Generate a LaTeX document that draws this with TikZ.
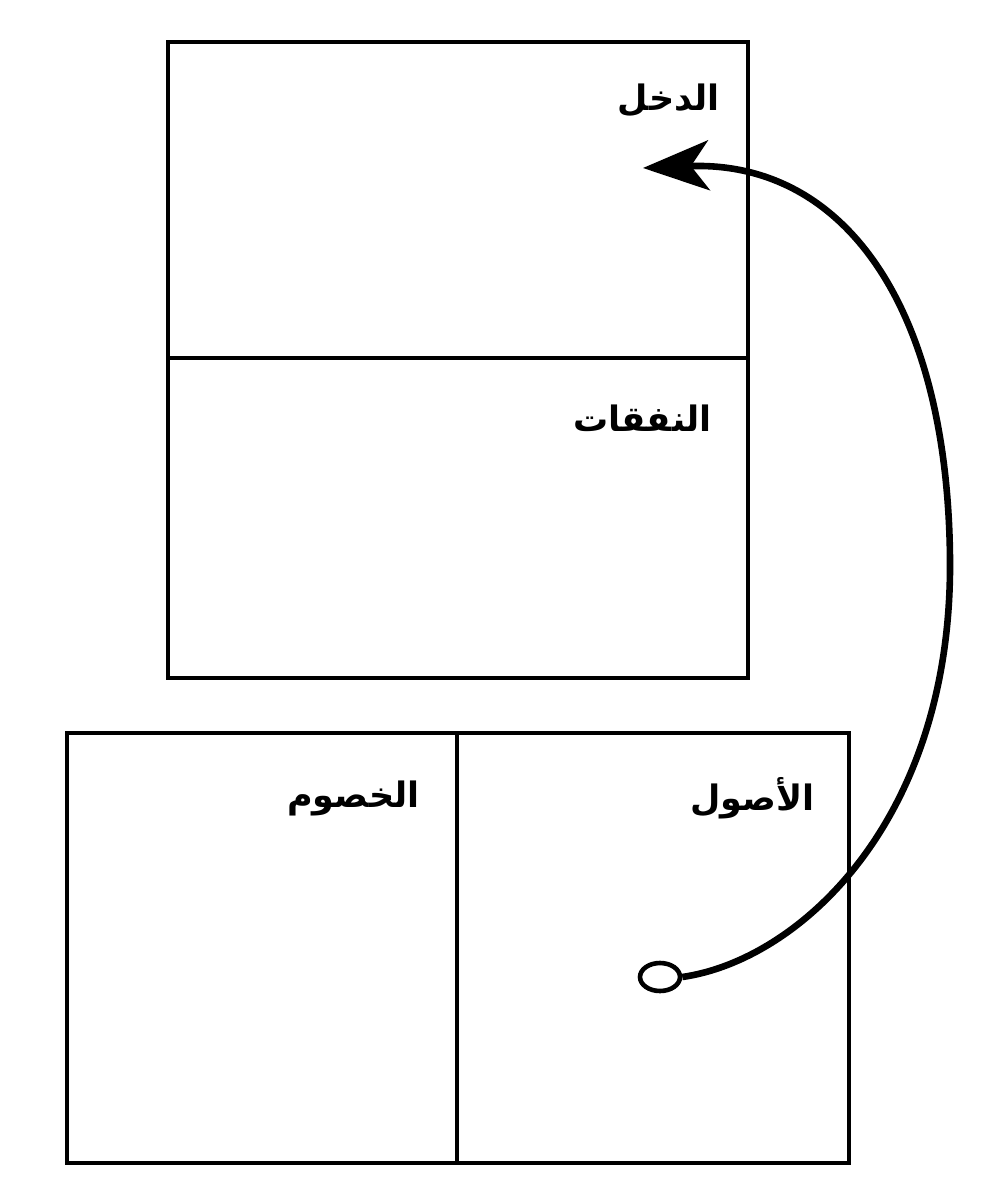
\documentclass[tikz,border=0pt]{standalone}
\usepackage{fontspec}
\newfontfamily\arabicfont[Script=Arabic]{DejaVu Sans}
\TeXXeTstate=1
\usetikzlibrary{arrows.meta,shapes.geometric}
\tikzset{
  boxpart/.style={draw, line width=2.2pt, rectangle, inner sep=0pt},
  lbl/.style={font=\arabicfont\bfseries\fontsize{17.5}{20}\selectfont, inner sep=0pt, anchor=east},
  flow/.style={line width=3.3pt, -{Stealth[length=33pt,width=25pt,inset=9pt]}},
}
\begin{document}
\begin{tikzpicture}[x=0.5pt,y=-0.5pt]
\useasboundingbox (0,0) rectangle (1007,1200);
\fill[white] (0,0) rectangle (1007,1200);
% top box
\node[boxpart, minimum width=290pt, minimum height=158pt] (income) at (458,200) {};
\node[boxpart, minimum width=290pt, minimum height=160pt] (expenses) at (458,518) {};
% bottom box
\node[boxpart, minimum width=195pt, minimum height=215pt] (liab) at (262,948) {};
\node[boxpart, minimum width=196pt, minimum height=215pt] (assets) at (653,948) {};
% labels
\node[lbl] (tincome) at (720,100) {\beginR الدخل\endR};
\node[lbl] (texp) at (712,418) {\beginR النفقات\endR};
\node[lbl] (tliab) at (420,798) {\beginR الخصوم\endR};
\node[lbl] (tassets) at (815,798) {\beginR الأصول\endR};
% circle and arrow
\node[draw, ellipse, line width=2.3pt, minimum width=20pt, minimum height=14pt, inner sep=0pt] (dot) at (660,977) {};
\coordinate (tip) at (643,168);
\draw[flow] (dot.east) .. controls (800,960) and (952,820) .. (950,560)
  .. controls (948,300) and (840,160) .. (tip);
\end{tikzpicture}
\end{document}
